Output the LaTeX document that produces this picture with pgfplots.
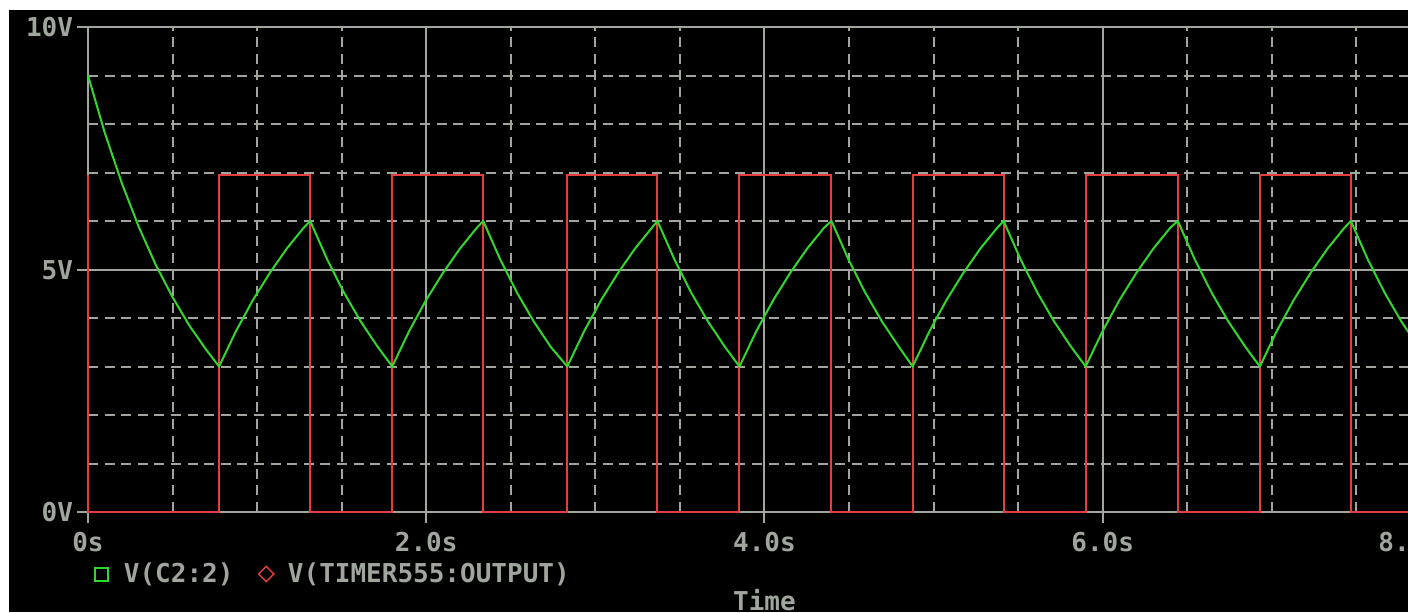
\documentclass[border=0pt]{standalone}
\usepackage{fontspec}
\usepackage{pgfplots}
\pgfplotsset{compat=1.18}
\newfontfamily\psfont{DejaVu Sans Mono}
\definecolor{psgrey}{RGB}{160,165,158}
\definecolor{psgreen}{RGB}{50,215,45}
\definecolor{psred}{RGB}{228,62,62}
\newcommand{\psf}{\psfont\bfseries\fontsize{13}{15}\selectfont}
\begin{document}
\begin{tikzpicture}
\fill[black] (4.5pt,0pt) rectangle (704pt,301pt);
\begin{axis}[
  at={(44pt,50pt)}, anchor=south west,
  scale only axis, width=676.5pt, height=242.5pt,
  xmin=0, xmax=8, ymin=0, ymax=10,
  clip=false,
  axis line style={psgrey, line width=1pt},
  xtick={0,2,4,6,8},
  xticklabels={0s,2.0s,4.0s,6.0s,\makebox[0pt][r]{8.0s}},
  ytick={0,5,10}, yticklabels={0V,5V,10V},
  minor xtick={0.5,1,1.5,2.5,3,3.5,4.5,5,5.5,6.5,7,7.5},
  minor ytick={1,2,3,4,6,7,8,9},
  grid=both,
  major grid style={psgrey, line width=1pt, solid},
  minor grid style={psgrey, line width=1pt, dash pattern=on 5pt off 3.3pt},
  tick align=outside, major tick length=5.5pt, minor tick length=0pt,
  xtick pos=bottom, ytick pos=left,
  major tick style={psgrey, line width=1pt},
  ticklabel style={font=\psf, text=psgrey, inner sep=0pt, outer sep=0pt},
  xticklabel style={anchor=base, yshift=-14.25pt},
  yticklabel style={anchor=base east, xshift=-2pt, yshift=-4.75pt},
  xlabel={Time},
  xlabel style={at={(axis description cs:0.5,0)}, anchor=base, yshift=-49.25pt, font=\psf, text=psgrey, inner sep=0pt},
  legend columns=2,
  legend style={at={(axis description cs:0,0)}, anchor=west, xshift=2.25pt, yshift=-31pt,
    draw=none, fill=none, inner sep=0pt, font=\psf, text=psgrey,
    /tikz/every even column/.append style={column sep=10pt}},
  legend cell align=left,
  legend image code/.code={\draw[#1] plot coordinates {(4pt,0pt)}; \path (0pt,0pt) (12.5pt,0pt);},
]
\addlegendimage{only marks, mark=square, mark size=3.25pt, psgreen, line width=1pt}
\addlegendentry{V(C2:2)}
\addlegendimage{only marks, mark=square, mark size=2.7pt, mark options={rotate=45}, psred, line width=0.75pt}
\addlegendentry{V(TIMER555:OUTPUT)}

\addplot[forget plot, psred, line width=1pt] coordinates {
(0,0)(0,6.95)(0,0)(0.775,0)(0.775,6.95)(1.314,6.95)(1.314,0)(1.799,0)(1.799,6.95)(2.337,6.95)(2.337,0)
(2.834,0)(2.834,6.95)(3.367,6.95)(3.367,0)(3.852,0)(3.852,6.95)(4.396,6.95)(4.396,0)(4.876,0)(4.876,6.95)
(5.414,6.95)(5.414,0)(5.899,0)(5.899,6.95)(6.444,6.95)(6.444,0)(6.929,0)(6.929,6.95)(7.467,6.95)(7.467,0)
(7.952,0)(7.952,6.95)(8.0,6.95)
};
\addplot[forget plot, psgreen, line width=1pt] coordinates {
(0,9)(0.1,7.81)(0.2,6.78)(0.3,5.88)(0.4,5.10)(0.5,4.43)(0.6,3.84)(0.7,3.34)(0.775,3.00)
(0.875,3.73)(0.975,4.37)(1.075,4.93)(1.175,5.43)(1.275,5.86)(1.314,6.00)
(1.414,5.21)(1.514,4.52)(1.614,3.92)(1.714,3.40)(1.799,3.00)
(1.899,3.73)(1.999,4.37)(2.099,4.93)(2.199,5.43)(2.299,5.86)(2.337,6.00)
(2.437,5.21)(2.537,4.52)(2.637,3.92)(2.737,3.40)(2.834,3.00)
(2.934,3.73)(3.034,4.37)(3.134,4.93)(3.234,5.43)(3.334,5.86)(3.367,6.00)
(3.467,5.21)(3.567,4.52)(3.667,3.92)(3.767,3.40)(3.852,3.00)
(3.952,3.73)(4.052,4.37)(4.152,4.93)(4.252,5.43)(4.352,5.86)(4.396,6.00)
(4.496,5.21)(4.596,4.52)(4.696,3.92)(4.796,3.40)(4.876,3.00)
(4.976,3.73)(5.076,4.37)(5.176,4.93)(5.276,5.43)(5.376,5.86)(5.414,6.00)
(5.514,5.21)(5.614,4.52)(5.714,3.92)(5.814,3.40)(5.899,3.00)
(5.999,3.73)(6.099,4.37)(6.199,4.93)(6.299,5.43)(6.399,5.86)(6.444,6.00)
(6.544,5.21)(6.644,4.52)(6.744,3.92)(6.844,3.40)(6.929,3.00)
(7.029,3.73)(7.129,4.37)(7.229,4.93)(7.329,5.43)(7.429,5.86)(7.467,6.00)
(7.567,5.21)(7.667,4.52)(7.767,3.92)(7.867,3.40)(7.952,3.00)(8.0,3.35)
};
\end{axis}
\pgfresetboundingbox
\useasboundingbox (0pt,0pt) rectangle (704pt,306pt);
\end{tikzpicture}
\end{document}
